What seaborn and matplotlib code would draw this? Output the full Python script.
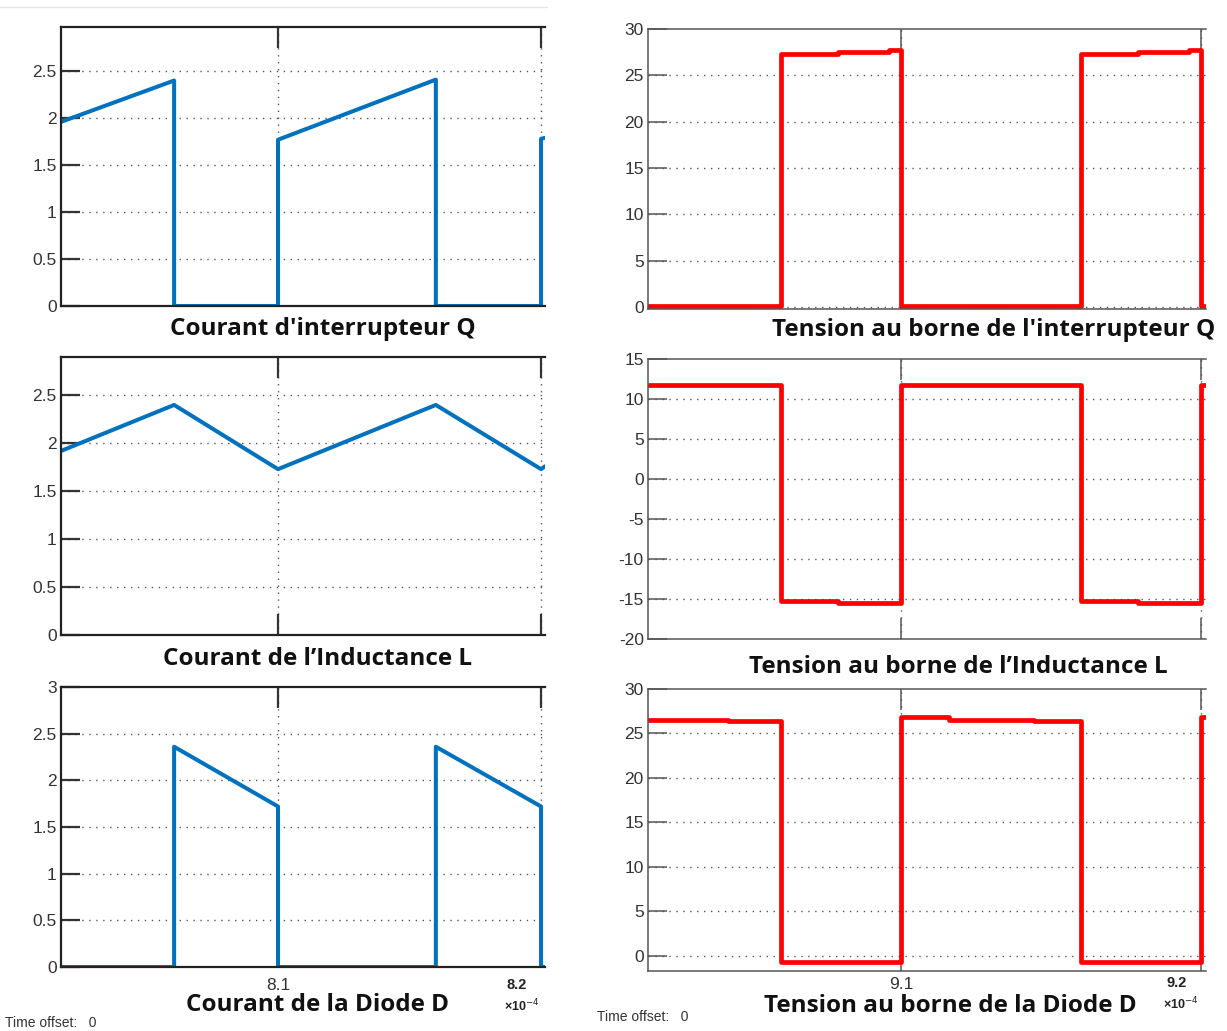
import numpy as np
import pandas as pd
import seaborn as sns
import matplotlib.pyplot as plt
from matplotlib.lines import Line2D

# --- data (time in units of 1e-4 s) ---
# left column: currents
t_q = [8.0175, 8.0605, 8.0605, 8.1, 8.1, 8.16, 8.16, 8.2, 8.2, 8.2015]
i_q = [1.96, 2.40, 0, 0, 1.77, 2.41, 0, 0, 1.78, 1.79]

t_l = [8.0175, 8.0605, 8.1, 8.16, 8.2, 8.2015]
i_l = [1.92, 2.40, 1.73, 2.40, 1.73, 1.76]

t_d = [8.0175, 8.0605, 8.0605, 8.1, 8.1, 8.16, 8.16, 8.2, 8.2, 8.2015]
i_d = [0, 0, 2.36, 1.72, 0, 0, 2.36, 1.72, 0, 0]

# right column: voltages (step signals, steps-post)
t_vq = [9.0157, 9.06, 9.079, 9.096, 9.1, 9.16, 9.179, 9.196, 9.2, 9.2017]
v_q = [0.15, 27.3, 27.55, 27.75, 0.15, 27.3, 27.55, 27.75, 0.15, 0.15]

t_vl = [9.0157, 9.06, 9.079, 9.1, 9.16, 9.179, 9.2, 9.2017]
v_l = [11.8, -15.2, -15.5, 11.8, -15.2, -15.5, 11.8, 11.8]

t_vd = [9.0157, 9.0424, 9.06, 9.1, 9.116, 9.1445, 9.16, 9.2, 9.2017]
v_d = [26.55, 26.35, -0.7, 26.8, 26.55, 26.35, -0.7, 26.8, 26.8]

titles_left = ["Courant d'interrupteur Q", "Courant de l\u2019Inductance L", "Courant de la Diode D"]
titles_right = ["Tension au borne de l'interrupteur Q", "Tension au borne de l\u2019Inductance L",
                "Tension au borne de la Diode D"]

yticks_left = [np.arange(0, 2.51, 0.5), np.arange(0, 2.51, 0.5), np.arange(0, 3.01, 0.5)]
ylims_left = [(0, 2.97), (0, 2.9), (0, 3.0)]
yticks_right = [np.arange(0, 31, 5), np.arange(-20, 16, 5), np.arange(0, 31, 5)]
ylims_right = [(-0.2, 30), (-20, 15), (-1.7, 30)]

sns.set_style("white")
plt.rcParams['font.family'] = ['Liberation Sans Narrow', 'Liberation Sans', 'DejaVu Sans']

W, H = 1227, 1031
fig = plt.figure(figsize=(W / 100, H / 100), dpi=100)


def pos(x0, x1, top, bot):
    return [x0 / W, 1 - bot / H, (x1 - x0) / W, (bot - top) / H]


def fmt(v):
    return f"{v:g}".replace("\u2212", "-")


def style_axes(ax, yticks, ylim, xlim, xticks, spine_c, spine_w, tick_c):
    ax.set_xlim(*xlim)
    ax.set_ylim(*ylim)
    ax.set_yticks(yticks)
    ax.set_yticklabels([fmt(v) for v in yticks])
    ax.set_xticks(xticks)
    ax.set_xticklabels([])
    ax.set_xlabel("")
    ax.set_ylabel("")
    for s in ["left", "top", "bottom"]:
        ax.spines[s].set_visible(True)
        ax.spines[s].set_color(spine_c)
        ax.spines[s].set_linewidth(spine_w)
    ax.spines["right"].set_visible(False)
    ax.tick_params(axis="y", direction="in", length=14, width=spine_w, color=tick_c,
                   labelsize=12.5, labelcolor="#333333", pad=3, left=True)
    ax.tick_params(axis="x", direction="in", length=15, width=spine_w, color=tick_c,
                   top=True, bottom=True)
    for v in yticks:
        if v > ylim[0] + 0.05 and v < ylim[1]:
            ax.axhline(v, color="#555555", lw=1, ls=(0, (1, 4)), zorder=0)
    for v in xticks:
        ax.axvline(v, color="#555555", lw=1, ls=(0, (1, 4)), zorder=0)


blue = "#0072BD"
red = "#FF0000"

left_pos = [(61, 545, 27, 306), (61, 545, 357, 635), (61, 545, 687, 967)]
right_pos = [(648, 1206, 29, 309), (648, 1206, 359, 639), (648, 1206, 689, 971)]
left_data = [(t_q, i_q), (t_l, i_l), (t_d, i_d)]
right_data = [(t_vq, v_q), (t_vl, v_l), (t_vd, v_d)]

left_axes = []
for k in range(3):
    ax = fig.add_axes(pos(*left_pos[k]))
    df = pd.DataFrame({"t": left_data[k][0], "v": left_data[k][1]})
    sns.lineplot(data=df, x="t", y="v", ax=ax, estimator=None, sort=False,
                 color=blue, linewidth=2.9)
    style_axes(ax, yticks_left[k], ylims_left[k], (8.0175, 8.2015), [8.1, 8.2],
               "#222222", 1.6, "#333333")
    left_axes.append(ax)

right_axes = []
for k in range(3):
    ax = fig.add_axes(pos(*right_pos[k]))
    df = pd.DataFrame({"t": right_data[k][0], "v": right_data[k][1]})
    sns.lineplot(data=df, x="t", y="v", ax=ax, estimator=None, sort=False,
                 color=red, linewidth=3.4, drawstyle="steps-post")
    style_axes(ax, yticks_right[k], ylims_right[k], (9.0157, 9.2017), [9.1, 9.2],
               "#555555", 1.1, "#555555")
    right_axes.append(ax)

# x tick labels on the bottom panels
left_axes[2].set_xticklabels(["8.1", ""], fontsize=12.5, color="#333333")
right_axes[2].set_xticklabels(["9.1", ""], fontsize=12.5, color="#333333")
left_axes[2].tick_params(axis="x", pad=8)
right_axes[2].tick_params(axis="x", pad=4)

# panel titles
tfont = dict(family=["Open Sans", "DejaVu Sans"], fontweight="bold", fontsize=17.5,
             color="#111111", ha="center", va="center")
for txt, (cx, cy) in zip(titles_left, [(323, 329), (317, 659), (318, 1005)]):
    fig.text(cx / W, 1 - cy / H, txt, **tfont)
for txt, (cx, cy) in zip(titles_right, [(994, 330), (958, 667), (950, 1006)]):
    fig.text(cx / W, 1 - cy / H, txt, **tfont)

# exponent labels
efont = dict(family=["Liberation Sans", "DejaVu Sans"], fontweight="bold", color="#222222",
             ha="center", va="center")
fig.text(517 / W, 1 - 985 / H, "8.2", fontsize=10.5, **efont)
fig.text(522 / W, 1 - 1006 / H, "\u00d710$^{-4}$", fontsize=9, **efont)
fig.text(1177 / W, 1 - 983 / H, "9.2", fontsize=10.5, **efont)
fig.text(1181 / W, 1 - 1004 / H, "\u00d710$^{-4}$", fontsize=9, **efont)

# time offset notes
ofont = dict(family=["Liberation Sans", "DejaVu Sans"], fontsize=10, color="#333333",
             ha="left", va="center")
fig.text(5 / W, 1 - 1023 / H, "Time offset:   0", **ofont)
fig.text(597 / W, 1 - 1017 / H, "Time offset:   0", **ofont)

# faint separator at the top
fig.add_artist(Line2D([0, 547 / W], [1 - 7 / H, 1 - 7 / H], color="#e6e6e6", lw=1))

fig.savefig("out.png", dpi=100, facecolor="white")
